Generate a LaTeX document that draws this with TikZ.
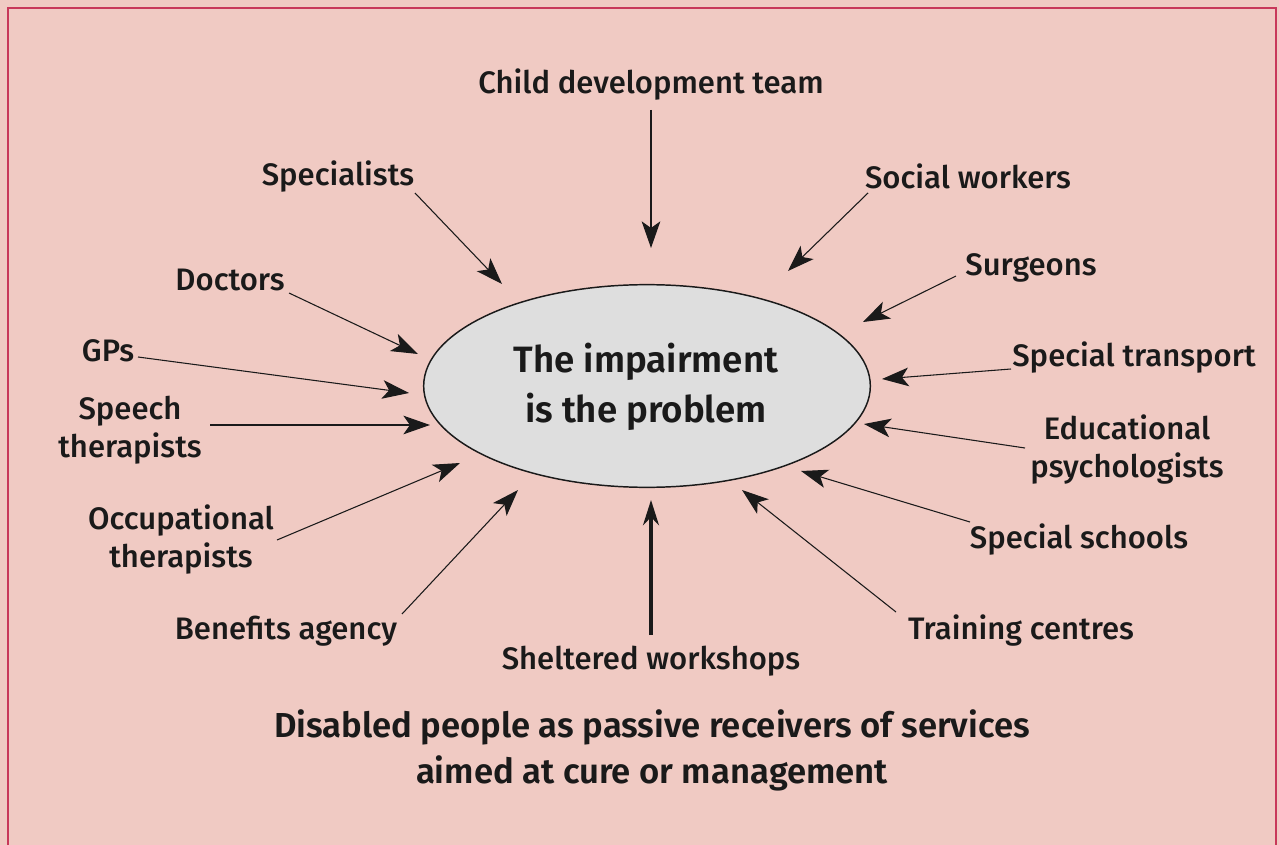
\documentclass[tikz,border=0pt]{standalone}
\usepackage{fontspec}
\setmainfont{Fira Sans}[UprightFont=* Medium, BoldFont=* SemiBold]
\usetikzlibrary{arrows.meta,shapes.geometric}
\definecolor{bgpink}{HTML}{F0CAC3}
\definecolor{frame}{HTML}{C8385A}
\definecolor{ellfill}{HTML}{DEDEDE}
\definecolor{ink}{HTML}{1A1A1A}
\tikzset{
  lbl/.style={text=ink, font=\fontsize{23.3}{28.5}\selectfont, align=center, inner sep=0pt, yshift=-2pt},
  arr/.style={draw=ink, line width=0.8pt, -{Stealth[length=20pt,width=14pt,inset=5pt]}},
  thickarr/.style={draw=ink, line width=2.4pt, -{Stealth[length=19pt,width=12pt]}},
}
\begin{document}
\begin{tikzpicture}[x=0.75pt,y=-0.75pt]
\useasboundingbox (0,0) rectangle (1279,845);
\fill[bgpink] (0,0) rectangle (1279,845);
\draw[frame, line width=2.2pt] (8,850) -- (8,8) -- (1276,8) -- (1276,850);
\node[ellipse, draw=ink, line width=1.1pt, fill=ellfill, minimum width=335pt, minimum height=152pt, inner sep=0pt] (imp) at (647,386) {};
\node[lbl, font=\bfseries\fontsize{27.5}{37.5}\selectfont] (impt) at (646,384) {The impairment\\is the problem};

\node[lbl] (cdt) at (651,82) {Child development team};
\node[lbl] (spe) at (338,174) {Specialists};
\node[lbl] (sw) at (968,174) {Social workers};
\node[lbl] (doc) at (230,277) {Doctors};
\node[lbl] (sur) at (1031,265) {Surgeons};
\node[lbl] (gps) at (108,348) {GPs};
\node[lbl] (stp) at (1134,355) {Special transport};
\node[lbl] (sth) at (130,428) {Speech\\therapists};
\node[lbl] (edp) at (1127,447) {Educational\\psychologists};
\node[lbl] (occ) at (181,537) {Occupational\\therapists};
\node[lbl] (ssc) at (1079,537) {Special schools};
\node[lbl] (ben) at (286,628) {Benefits agency};
\node[lbl] (shw) at (651,658) {Sheltered workshops};
\node[lbl] (trc) at (1021,628) {Training centres};
\node[lbl, font=\bfseries\fontsize{26}{34.5}\selectfont] (cap) at (652,748) {Disabled people as passive receivers of services\\aimed at cure or management};

\coordinate (a1) at (651,110); \coordinate (b1) at (651,248);
\coordinate (a2) at (415,193); \coordinate (b2) at (502,284);
\coordinate (a3) at (868,193); \coordinate (b3) at (788,271);
\coordinate (a4) at (289,293); \coordinate (b4) at (418,354);
\coordinate (a5) at (956,276); \coordinate (b5) at (863,322);
\coordinate (a6) at (138,357); \coordinate (b6) at (409,393);
\coordinate (a7) at (1011,369); \coordinate (b7) at (882,379);
\coordinate (a8) at (210,425); \coordinate (b8) at (430,425);
\coordinate (a9) at (1025,448); \coordinate (b9) at (864,424);
\coordinate (a10) at (277,540); \coordinate (b10) at (460,463);
\coordinate (a11) at (970,522); \coordinate (b11) at (801,471);
\coordinate (a12) at (402,614); \coordinate (b12) at (518,490);
\coordinate (a13) at (651,635); \coordinate (b13) at (651,500);
\coordinate (a14) at (896,612); \coordinate (b14) at (742,490);

\foreach \i in {1,...,12,14} { \draw[arr] (a\i) -- (b\i); }
\draw[thickarr] (a13) -- (b13);
\end{tikzpicture}
\end{document}
